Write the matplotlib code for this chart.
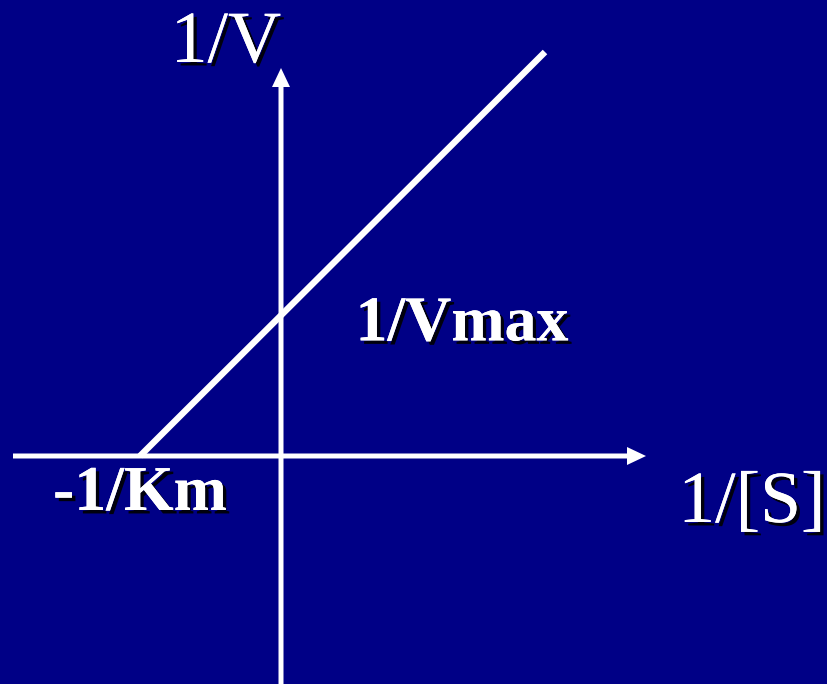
import matplotlib
matplotlib.use("Agg")
import matplotlib.pyplot as plt
import matplotlib.patheffects as pe

# Lineweaver-Burk sketch (double reciprocal plot)
#------------------------------------------------
km_intercept = -1.41                    # -1/Km on the x axis
vmax_intercept = 1.406                  # 1/Vmax on the y axis
line_x = [km_intercept, 2.64]           # ends of the plotted line
line_y = [0.0, 4.04]

x_axis = (-2.68, 3.65)                  # horizontal axis, tail to tip
y_axis = (-2.30, 3.88)                  # vertical axis, tail to tip

labels = ['1/V', '1/[S]', '1/Vmax', '-1/Km']

bg = '#000086'
fg = 'white'

fig = plt.figure(figsize=(8.27, 6.84), dpi=100)
fig.patch.set_facecolor(bg)
ax = fig.add_axes([0, 0, 1, 1])
ax.set_facecolor(bg)
ax.set_xlim(-2.81, 5.46)
ax.set_ylim(-2.28, 4.56)
ax.set_aspect('equal')
ax.axis('off')

# axes with arrow heads
ax.arrow(x_axis[0], 0, x_axis[1] - x_axis[0], 0, width=0.05, head_width=0.18,
         head_length=0.19, length_includes_head=True, color=fg, lw=0)
ax.arrow(0, y_axis[0], 0, y_axis[1] - y_axis[0], width=0.05, head_width=0.18,
         head_length=0.19, length_includes_head=True, color=fg, lw=0)

# the line
ax.plot(line_x, line_y, color=fg, lw=4.6, solid_capstyle='butt')

# text with a dark drop shadow
shadow = [pe.withSimplePatchShadow(offset=(2.5, -2.5), shadow_rgbFace='black', alpha=0.9),
          pe.Normal()]
serif = 'Liberation Serif'
ax.text(-0.55, 3.94, labels[0], color=fg, fontsize=53, family=serif,
        ha='center', va='baseline', path_effects=shadow)
ax.text(4.71, -0.66, labels[1], color=fg, fontsize=53, family=serif,
        ha='center', va='baseline', path_effects=shadow)
ax.text(1.81, vmax_intercept - 0.25, labels[2], color=fg, fontsize=46, family=serif,
        weight='bold', ha='center', va='baseline', path_effects=shadow)
ax.text(km_intercept, -0.54, labels[3], color=fg, fontsize=46, family=serif,
        weight='bold', ha='center', va='baseline', path_effects=shadow)

fig.savefig('out.png', dpi=100, facecolor=bg)
